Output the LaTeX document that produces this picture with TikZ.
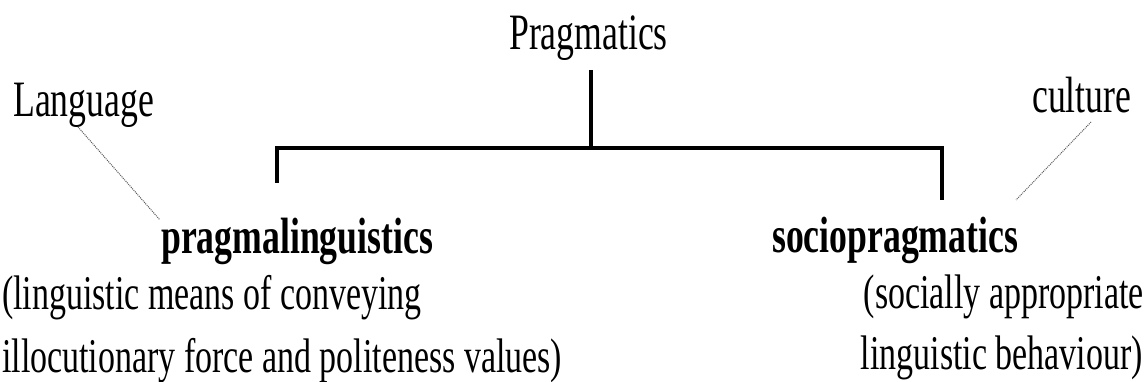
\documentclass[tikz,border=0pt]{standalone}
\usepackage{fontspec}
\setmainfont{Liberation Serif}[FakeStretch=0.70]
\begin{document}
\begin{tikzpicture}[x=1pt,y=1pt,
  txt/.style={inner sep=0pt, anchor=base west, font=\fontsize{51}{61}\selectfont},
  body/.style={inner sep=0pt, anchor=base west, font=\fontsize{48.5}{58}\selectfont},
  bold/.style={txt, font=\fontsize{51}{61}\selectfont\bfseries},
  tree/.style={line width=3.1pt, line join=miter},
  link/.style={line width=1pt, black!65, densely dotted}]
\useasboundingbox (0,0) rectangle (1146,382);
% texts
\node[txt] (prag) at (509,332) {Pragmatics};
\node[txt] (lang) at (13,265) {Language};
\node[txt] (cult) at (1032,269) {culture};
\node[bold] (pl) at (161,128) {pragmalinguistics};
\node[bold] (sp) at (772,129) {sociopragmatics};
\node[body] (pl1) at (2,72) {(linguistic means of conveying};
\node[body] (pl2) at (2,9) {illocutionary force and politeness values)};
\node[body, anchor=base east] (sp1) at (1144,73) {(socially appropriate};
\node[body, anchor=base east] (sp2) at (1143,12) {linguistic behaviour)};
% tree coordinates
\coordinate (top) at (591,312);
\coordinate (mid) at (591,234);
\coordinate (lc) at (277,234);
\coordinate (le) at (277,199);
\coordinate (rc) at (942,234);
\coordinate (re) at (942,182);
\draw[tree] (top) -- (mid);
\draw[tree] (le) -- (lc) -- (rc) -- (re);
% dotted links
\coordinate (langend) at (78,255);
\coordinate (plend) at (160,162);
\coordinate (cultend) at (1091,260);
\coordinate (spend) at (1016,182);
\draw[link] (langend) -- (plend);
\draw[link] (cultend) -- (spend);
\end{tikzpicture}
\end{document}
